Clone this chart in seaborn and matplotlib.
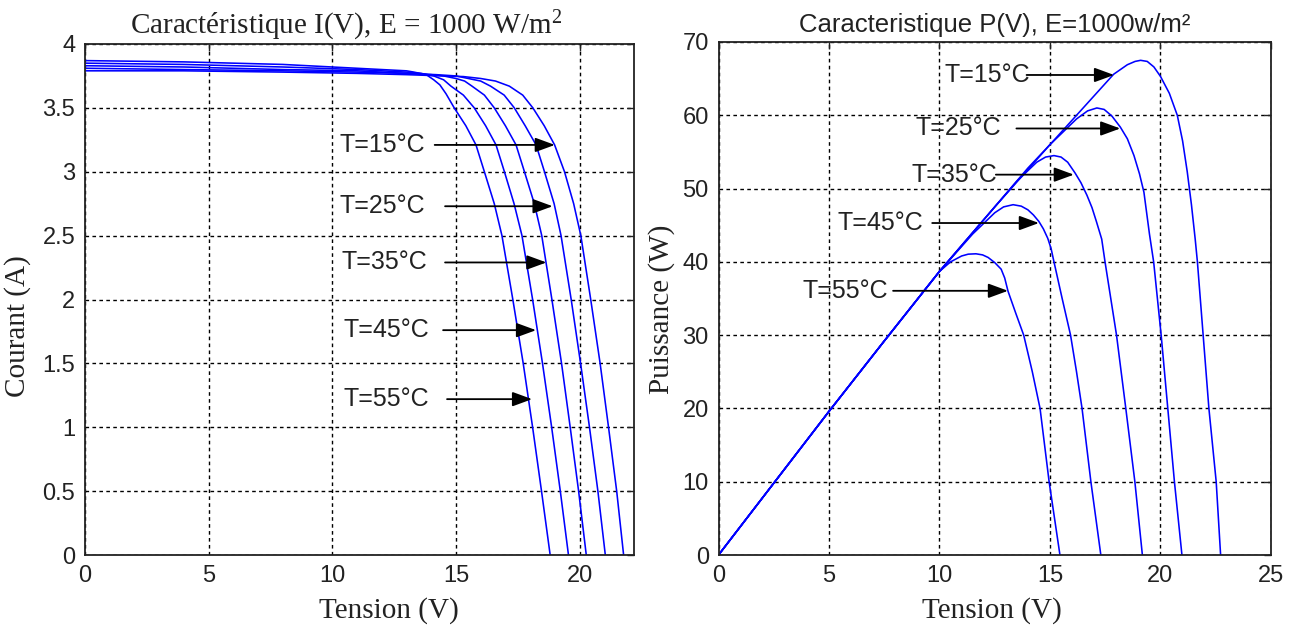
import matplotlib
matplotlib.use("Agg")
import matplotlib.pyplot as plt
import seaborn as sns
import pandas as pd

# ---------------- data ----------------
temperatures = ["15", "25", "35", "45", "55"]

# I(V) characteristic (left panel)
iv_v_15 = [0, 4, 8, 11, 13, 14.5, 15.3, 16.0, 16.6, 17.16, 17.7, 18.11, 18.57, 18.99, 19.39, 19.76, 20.05, 20.45, 20.83, 21.17, 21.5, 21.78]
iv_i_15 = [3.79, 3.79, 3.78, 3.77, 3.76, 3.75, 3.745, 3.73, 3.71, 3.67, 3.6, 3.5, 3.36, 3.21, 3.0, 2.75, 2.5, 2.0, 1.5, 1.0, 0.5, 0.0]
iv_v_25 = [0, 4, 8, 11, 13, 14.2, 15.0, 15.5, 16.0, 16.4, 16.95, 17.36, 17.8, 18.24, 18.58, 18.97, 19.25, 19.66, 20.04, 20.4, 20.74, 21.04]
iv_i_25 = [3.81, 3.80, 3.79, 3.78, 3.77, 3.76, 3.75, 3.73, 3.71, 3.67, 3.6, 3.5, 3.36, 3.21, 3.0, 2.75, 2.5, 2.0, 1.5, 1.0, 0.5, 0.0]
iv_v_35 = [0, 4, 8, 11, 13, 14.0, 14.5, 15.0, 15.35, 15.65, 16.15, 16.55, 17.0, 17.43, 17.77, 18.17, 18.47, 18.88, 19.27, 19.62, 19.96, 20.27]
iv_i_35 = [3.83, 3.82, 3.80, 3.79, 3.77, 3.76, 3.75, 3.73, 3.71, 3.67, 3.6, 3.5, 3.36, 3.21, 3.0, 2.75, 2.5, 2.0, 1.5, 1.0, 0.5, 0.0]
iv_v_45 = [0, 4, 8, 11, 13, 13.6, 14.1, 14.5, 14.8, 15.3, 15.74, 16.2, 16.62, 16.96, 17.35, 17.67, 18.1, 18.5, 18.87, 19.22, 19.55]
iv_i_45 = [3.85, 3.84, 3.82, 3.80, 3.78, 3.77, 3.75, 3.72, 3.67, 3.6, 3.5, 3.36, 3.21, 3.0, 2.75, 2.5, 2.0, 1.5, 1.0, 0.5, 0.0]
iv_v_55 = [0, 4, 8, 11, 13, 13.3, 13.8, 14.1, 14.35, 14.6, 14.93, 15.4, 15.81, 16.15, 16.55, 16.86, 17.3, 17.72, 18.1, 18.46, 18.81]
iv_i_55 = [3.87, 3.86, 3.84, 3.81, 3.79, 3.78, 3.76, 3.72, 3.68, 3.61, 3.5, 3.36, 3.21, 3.0, 2.75, 2.5, 2.0, 1.5, 1.0, 0.5, 0.0]

# P(V) characteristic (right panel)
pv_v_15 = [0, 2.5, 5, 7.5, 10, 12.5, 15, 16.5, 17.88, 18.5, 18.85, 19.1, 19.4, 19.7, 20.0, 20.4, 20.76, 21.0, 21.21, 21.4, 21.57, 21.67, 21.8, 21.93, 22.19, 22.52, 22.72]
pv_p_15 = [0, 9.8, 19.6, 29.2, 38.7, 47.5, 56.0, 61.0, 65.6, 66.9, 67.35, 67.5, 67.35, 66.6, 65.3, 63.0, 60.0, 56.5, 52.3, 47.8, 43.1, 40.0, 35.0, 30.0, 20.0, 10.0, 0.0]
pv_v_25 = [0, 2.5, 5, 7.5, 10, 12.5, 14.0, 15.0, 16.2, 16.7, 17.12, 17.45, 17.8, 18.18, 18.5, 18.8, 19.05, 19.25, 19.5, 19.69, 19.86, 20.03, 20.33, 20.63, 20.97]
pv_p_25 = [0, 9.8, 19.6, 29.2, 38.7, 47.5, 52.8, 56.0, 59.5, 60.6, 61.0, 60.8, 59.9, 58.4, 56.8, 54.5, 52.0, 49.5, 43.8, 40.0, 35.0, 30.0, 20.0, 10.0, 0.0]
pv_v_35 = [0, 2.5, 5, 7.5, 10, 12.5, 13.5, 14.4, 14.8, 15.18, 15.5, 15.8, 16.14, 16.4, 16.67, 16.9, 17.1, 17.34, 17.49, 17.75, 18.01, 18.43, 18.84, 19.18]
pv_p_35 = [0, 9.8, 19.6, 29.2, 38.7, 47.5, 51.0, 53.6, 54.3, 54.5, 54.3, 53.6, 52.1, 50.8, 49.1, 47.4, 45.5, 43.1, 40.0, 35.0, 30.0, 20.0, 10.0, 0.0]
pv_v_45 = [0, 2.5, 5, 7.5, 10, 11.5, 12.5, 12.9, 13.33, 13.7, 14.0, 14.25, 14.5, 14.7, 14.9, 15.05, 15.18, 15.55, 15.93, 16.2, 16.45, 16.85, 17.3]
pv_p_45 = [0, 9.8, 19.6, 29.2, 38.7, 43.8, 46.7, 47.5, 47.8, 47.6, 47.1, 46.4, 45.5, 44.5, 43.2, 41.8, 40.0, 35.0, 30.0, 25.0, 20.0, 10.0, 0.0]
pv_v_55 = [0, 2.5, 5, 7.5, 10, 10.5, 11.0, 11.3, 11.65, 11.95, 12.2, 12.5, 12.79, 12.95, 13.1, 13.45, 13.81, 14.2, 14.55, 14.96, 15.45]
pv_p_55 = [0, 9.8, 19.6, 29.2, 38.7, 40.0, 40.8, 41.05, 41.1, 40.95, 40.6, 39.9, 39.0, 37.8, 36.0, 33.0, 30.0, 25.0, 20.0, 10.0, 0.0]

# annotation labels and their anchor values
ann_labels = ["T=15°C", "T=25°C", "T=35°C", "T=45°C", "T=55°C"]
iv_text_v = [10.29, 10.29, 10.38, 10.46, 10.46]
iv_ann_i = [3.21, 2.73, 2.29, 1.76, 1.22]
iv_arrow_from = [14.14, 14.56, 14.56, 14.48, 14.64]
iv_arrow_to = [19.0, 18.91, 18.66, 18.24, 18.08]

pv_text_v = [10.22, 8.92, 8.74, 5.39, 3.81]
pv_ann_p = [65.5, 58.2, 51.9, 45.3, 36.05]
pv_arrow_from = [13.94, 13.48, 12.55, 9.67, 7.9]
pv_arrow_to = [17.9, 18.18, 16.08, 14.5, 13.1]

iv_x_ticks = [0, 5, 10, 15, 20]
iv_y_ticks = [0, 0.5, 1, 1.5, 2, 2.5, 3, 3.5, 4]
pv_x_ticks = [0, 5, 10, 15, 20, 25]
pv_y_ticks = [0, 10, 20, 30, 40, 50, 60, 70]

# ---------------- build tables ----------------
iv_curves = {"15": (iv_v_15, iv_i_15), "25": (iv_v_25, iv_i_25), "35": (iv_v_35, iv_i_35),
             "45": (iv_v_45, iv_i_45), "55": (iv_v_55, iv_i_55)}
pv_curves = {"15": (pv_v_15, pv_p_15), "25": (pv_v_25, pv_p_25), "35": (pv_v_35, pv_p_35),
             "45": (pv_v_45, pv_p_45), "55": (pv_v_55, pv_p_55)}

rows = []
for t in temperatures:
    for v, i in zip(*iv_curves[t]):
        rows.append({"T": t, "V": v, "I": i})
df_iv = pd.DataFrame(rows)
rows = []
for t in temperatures:
    for v, p in zip(*pv_curves[t]):
        rows.append({"T": t, "V": v, "P": p})
df_pv = pd.DataFrame(rows)

# ---------------- style ----------------
sns.set_style("white")
plt.rcParams["font.family"] = ["Liberation Sans", "DejaVu Sans"]
plt.rcParams["mathtext.fontset"] = "custom"
plt.rcParams["mathtext.rm"] = "Liberation Serif"
plt.rcParams["mathtext.it"] = "Liberation Serif:italic"

SERIF = ["Liberation Serif", "DejaVu Serif"]
LINE_BLUE = "#0000ff"
TXT = "#222222"

fig = plt.figure(figsize=(12.95, 6.25), dpi=100)
ax1 = fig.add_axes([85 / 1295, 70 / 625, 549 / 1295, 511 / 625])
ax2 = fig.add_axes([718.5 / 1295, 70 / 625, 552.5 / 1295, 513 / 625])

sns.lineplot(data=df_iv, x="V", y="I", hue="T", palette=[LINE_BLUE] * 5,
             estimator=None, sort=False, legend=False, linewidth=1.15, ax=ax1)
sns.lineplot(data=df_pv, x="V", y="P", hue="T", palette=[LINE_BLUE] * 5,
             estimator=None, sort=False, legend=False, linewidth=1.15, ax=ax2)


def style_axes(ax, xt, yt, xlim, ylim):
    ax.set_xlim(*xlim)
    ax.set_ylim(*ylim)
    ax.set_xticks(xt)
    ax.set_yticks(yt)
    ax.set_xticklabels([f"{v:g}" for v in xt])
    ax.set_yticklabels([f"{v:g}" for v in yt])
    ax.grid(True, color="black", linestyle=(0, (2.6, 2.4)), linewidth=1.0)
    ax.set_axisbelow(True)
    for s in ax.spines.values():
        s.set_color(TXT)
        s.set_linewidth(1.3)
    ax.tick_params(direction="in", length=5, width=1.0, top=True, right=True,
                   labelsize=17, pad=7, colors=TXT)


style_axes(ax1, iv_x_ticks, iv_y_ticks, (0, 22.2), (0, 4))
style_axes(ax2, pv_x_ticks, pv_y_ticks, (0, 25), (0, 70))

ax1.set_title("Caractéristique I(V), E = 1000 W/m$^{2}$", fontfamily=SERIF,
              fontsize=21, pad=7, color=TXT, x=0.475)
ax2.set_title("Caracteristique P(V), E=1000w/m²", fontsize=18.5, pad=7, color=TXT)
ax1.set_xlabel("Tension (V)", fontfamily=SERIF, fontsize=21, color=TXT)
ax1.xaxis.set_label_coords(0.554, -0.082)
ax2.set_xlabel("Tension (V)", fontfamily=SERIF, fontsize=21, color=TXT)
ax2.xaxis.set_label_coords(0.495, -0.082)
ax1.set_ylabel("Courant (A)", fontfamily=SERIF, fontsize=21, color=TXT)
ax1.yaxis.set_label_coords(-0.099, 0.447)
ax2.set_ylabel("Puissance (W)", fontfamily=SERIF, fontsize=21, color=TXT)
ax2.yaxis.set_label_coords(-0.078, 0.479)

arrow_style = "-|>,head_length=0.6,head_width=0.22"
for lab, tx, y, a0, a1 in zip(ann_labels, iv_text_v, iv_ann_i, iv_arrow_from, iv_arrow_to):
    ax1.text(tx, y, lab, ha="left", va="center", fontsize=18, color=TXT)
    ax1.annotate("", xy=(a1, y), xytext=(a0, y),
                 arrowprops=dict(arrowstyle=arrow_style, color="black", lw=1.3,
                                 mutation_scale=20, shrinkA=0, shrinkB=0))
for lab, tx, y, a0, a1 in zip(ann_labels, pv_text_v, pv_ann_p, pv_arrow_from, pv_arrow_to):
    ax2.text(tx, y, lab, ha="left", va="center", fontsize=18, color=TXT)
    ax2.annotate("", xy=(a1, y), xytext=(a0, y),
                 arrowprops=dict(arrowstyle=arrow_style, color="black", lw=1.3,
                                 mutation_scale=20, shrinkA=0, shrinkB=0))

fig.savefig("out.png", dpi=100)
